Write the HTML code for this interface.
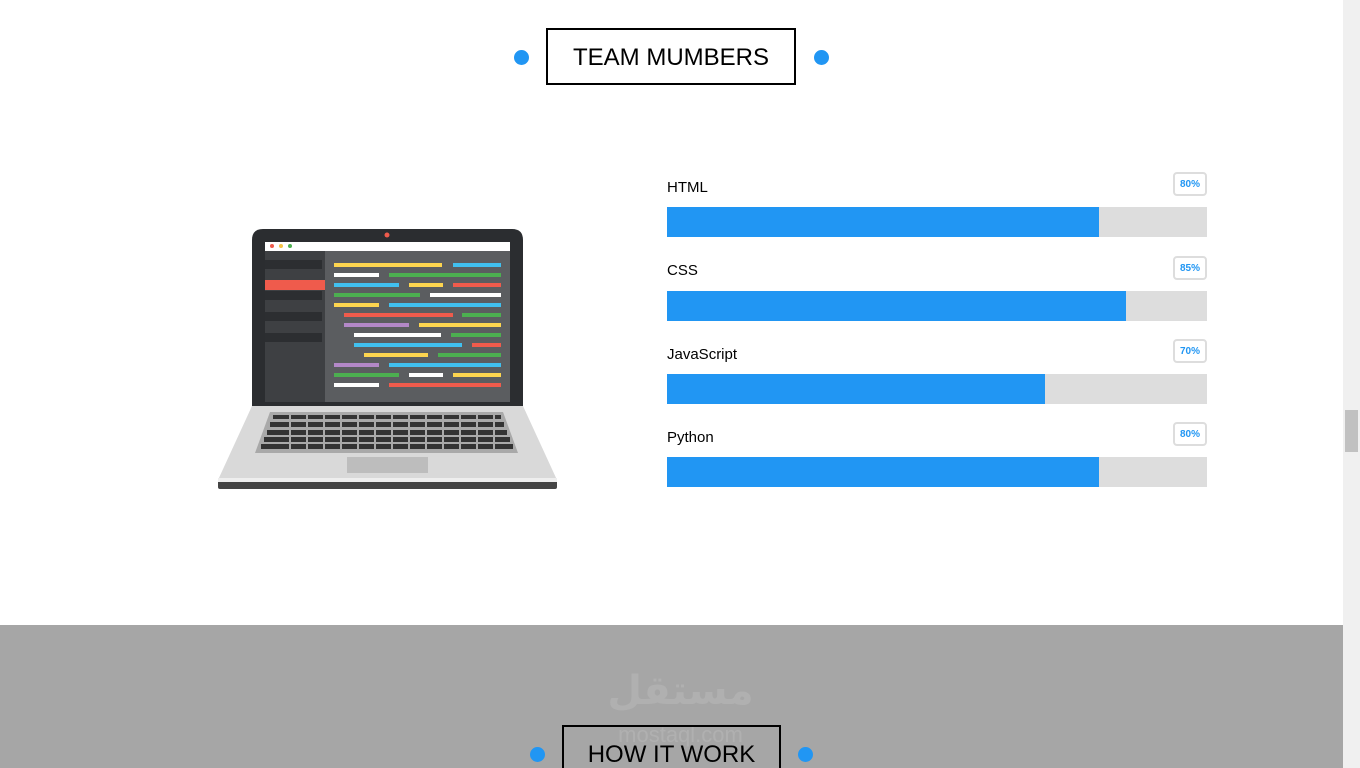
<!DOCTYPE html>
<html style="margin:0;width:1360px;height:768px;overflow:hidden"><head><style>
body{margin:0;width:1360px;height:768px;overflow:hidden;background:#fff;font-family:"Liberation Sans",sans-serif;position:relative}
.a{position:absolute}
.dot{position:absolute;width:15px;height:15px;border-radius:50%;background:#2196f3}
.lbl{position:absolute;left:667px;font-size:15px;color:#000}
.bar{position:absolute;left:667px;width:540px;height:30px;background:#ddd}
.bar div{height:100%;background:#2196f3}
.bd{position:absolute;left:1173px;width:30px;height:20px;border:2px solid #ddd;border-radius:4px;color:#2196f3;font-size:10px;font-weight:bold;text-align:center;line-height:22px;font-family:"Liberation Sans Narrow","Liberation Sans",sans-serif}
</style></head><body>
<div class="dot" style="left:514px;top:50px"></div>
<div class="dot" style="left:814px;top:50px"></div>
<div class="a" style="left:546px;top:28px;width:246px;height:53px;border:2px solid #000;text-align:center;line-height:55px;font-size:24px">TEAM MUMBERS</div>

<svg class="a" style="left:0;top:0" width="640" height="520">
<path d="M252 407 L252 240 Q252 229 263 229 L512 229 Q523 229 523 240 L523 407 Z" fill="#2b2d30"/>
<circle cx="387" cy="235" r="2.5" fill="#ef5b4c"/>
<rect x="265" y="242" width="245" height="160" fill="#5b5d60"/>
<rect x="265" y="242" width="245" height="9" fill="#fff"/>
<circle cx="272" cy="246" r="2" fill="#ef5b4c"/><circle cx="281" cy="246" r="2" fill="#f6c344"/><circle cx="290" cy="246" r="2" fill="#4caf50"/>
<rect x="265" y="251" width="60" height="151" fill="#3e4043"/>
<rect x="265" y="260" width="57" height="9" fill="#2c2e31"/>
<rect x="265" y="280" width="60" height="10" fill="#ef5b4c"/>
<rect x="265" y="291" width="57" height="9" fill="#2c2e31"/>
<rect x="265" y="312" width="57" height="9" fill="#2c2e31"/>
<rect x="265" y="333" width="57" height="9" fill="#2c2e31"/>
<g>
<rect x="334" y="263" width="108" height="4" fill="#fdd54f"/><rect x="453" y="263" width="48" height="4" fill="#40c0ef"/>
<rect x="334" y="273" width="45" height="4" fill="#fff"/><rect x="389" y="273" width="112" height="4" fill="#4caf50"/>
<rect x="334" y="283" width="65" height="4" fill="#40c0ef"/><rect x="409" y="283" width="34" height="4" fill="#fdd54f"/><rect x="453" y="283" width="48" height="4" fill="#ef5b4c"/>
<rect x="334" y="293" width="86" height="4" fill="#4caf50"/><rect x="430" y="293" width="71" height="4" fill="#fff"/>
<rect x="334" y="303" width="45" height="4" fill="#fdd54f"/><rect x="389" y="303" width="112" height="4" fill="#40c0ef"/>
<rect x="344" y="313" width="109" height="4" fill="#ef5b4c"/><rect x="462" y="313" width="39" height="4" fill="#4caf50"/>
<rect x="344" y="323" width="65" height="4" fill="#b388c8"/><rect x="419" y="323" width="82" height="4" fill="#fdd54f"/>
<rect x="354" y="333" width="87" height="4" fill="#fff"/><rect x="451" y="333" width="50" height="4" fill="#4caf50"/>
<rect x="354" y="343" width="108" height="4" fill="#40c0ef"/><rect x="472" y="343" width="29" height="4" fill="#ef5b4c"/>
<rect x="364" y="353" width="64" height="4" fill="#fdd54f"/><rect x="438" y="353" width="63" height="4" fill="#4caf50"/>
<rect x="334" y="363" width="45" height="4" fill="#b388c8"/><rect x="389" y="363" width="112" height="4" fill="#40c0ef"/>
<rect x="334" y="373" width="65" height="4" fill="#4caf50"/><rect x="409" y="373" width="34" height="4" fill="#fff"/><rect x="453" y="373" width="48" height="4" fill="#fdd54f"/>
<rect x="334" y="383" width="45" height="4" fill="#fff"/><rect x="389" y="383" width="112" height="4" fill="#ef5b4c"/>
</g>
<path d="M252 406 L523 406 L557 480 L218 480 Z" fill="#d9d9d9"/>
<rect x="218" y="480" width="339" height="9" fill="#444" rx="2"/>
<rect x="218" y="478" width="339" height="4" fill="#eee"/>
<path d="M270 412 L503 412 L518 453 L255 453 Z" fill="#a9a9a9"/>
<g fill="#333">
<rect x="273" y="415" width="228" height="4"/>
<rect x="270" y="422" width="234" height="5"/>
<rect x="267" y="430" width="240" height="5"/>
<rect x="264" y="437" width="246" height="5"/>
<rect x="261" y="444" width="252" height="5"/>
</g>
<g stroke="#a9a9a9" stroke-width="2">
<path d="M290 412V453M307 412V453M324 412V453M341 412V453M358 412V453M375 412V453M392 412V453M409 412V453M426 412V453M443 412V453M460 412V453M477 412V453M494 412V453"/>
</g>
<rect x="347" y="457" width="81" height="16" fill="#bdbdbd"/>
</svg>

<div class="lbl" style="top:179px">HTML</div>
<div class="bd" style="top:172px">80%</div>
<div class="bar" style="top:207px"><div style="width:432px"></div></div>
<div class="lbl" style="top:262px">CSS</div>
<div class="bd" style="top:256px">85%</div>
<div class="bar" style="top:291px"><div style="width:459px"></div></div>
<div class="lbl" style="top:346px">JavaScript</div>
<div class="bd" style="top:339px">70%</div>
<div class="bar" style="top:374px"><div style="width:378px"></div></div>
<div class="lbl" style="top:429px">Python</div>
<div class="bd" style="top:422px">80%</div>
<div class="bar" style="top:457px"><div style="width:432px"></div></div>

<div class="a" style="left:0;top:625px;width:1343px;height:143px;background:#a6a6a6"></div>
<div class="a" style="left:598px;top:668px;width:165px;text-align:center;color:#b0b0b0;font-size:40px;font-weight:bold;font-family:'DejaVu Sans',sans-serif">مستقل</div>
<div class="a" style="left:598px;top:722px;width:165px;text-align:center;color:#b0b0b0;font-size:22px">mostaql.com</div>
<div class="dot" style="left:530px;top:747px"></div>
<div class="dot" style="left:798px;top:747px"></div>
<div class="a" style="left:562px;top:725px;width:215px;height:60px;border:2px solid #000;text-align:center;line-height:55px;font-size:24px">HOW IT WORK</div>

<div class="a" style="left:1343px;top:0;width:17px;height:768px;background:#f0f0f0"></div>
<div class="a" style="left:1345px;top:410px;width:13px;height:42px;background:#c1c1c1"></div>
</body></html>
